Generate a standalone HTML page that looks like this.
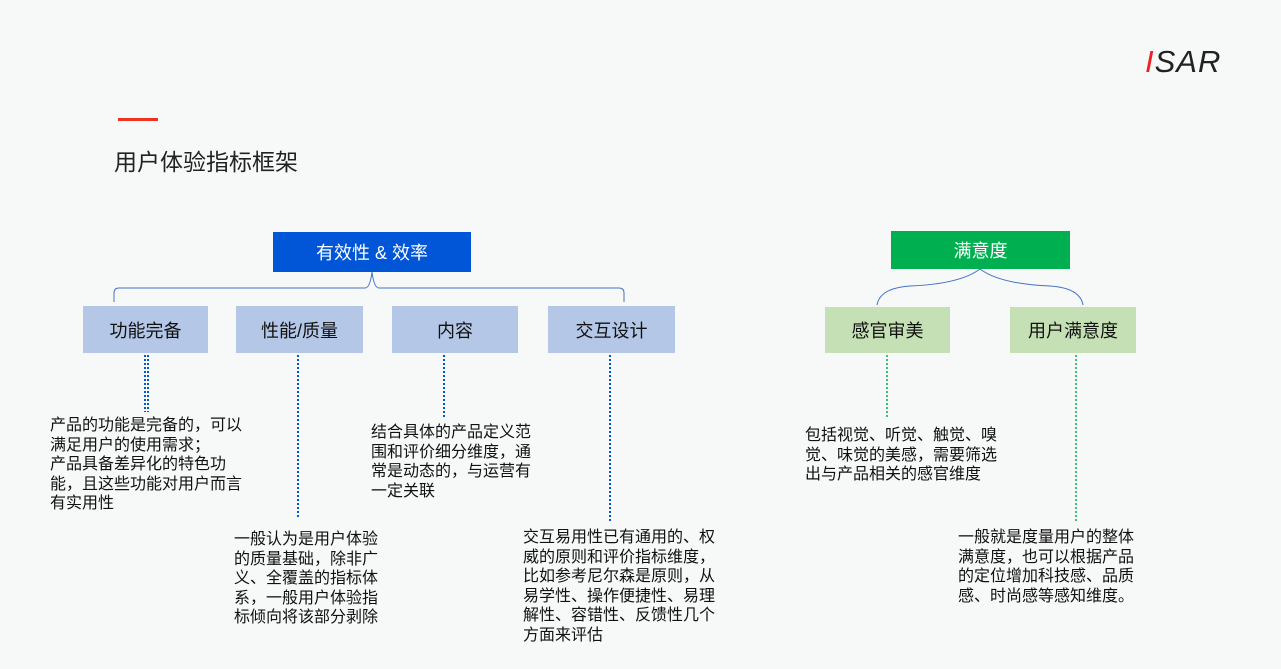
<!DOCTYPE html>
<html><head><meta charset="utf-8"><style>
body{margin:0;width:1281px;height:669px;background:#f7f8f8;position:relative;overflow:hidden;font-family:"Liberation Sans","Noto Sans CJK SC",sans-serif;}
.b{position:absolute;display:flex;align-items:center;justify-content:center;font-size:18px;color:#111;}
.t{position:absolute;font-size:16px;line-height:19.5px;color:#111;word-break:break-all;}
</style></head><body>
<div style="position:absolute;left:118px;top:118px;width:40px;height:3px;background:#e32;"></div>
<div style="position:absolute;left:114px;top:143px;font-size:23px;color:#222;">用户体验指标框架</div>
<div style="position:absolute;left:1145px;top:44px;font-size:31px;font-style:italic;color:#222;letter-spacing:1px;"><span style="color:#e22;">I</span>SAR</div>

<div class="b" style="left:273px;top:232px;width:198px;height:40px;background:#0056d6;color:#fff;">有效性 &amp; 效率</div>
<div class="b" style="left:83px;top:306px;width:125px;height:47px;background:#b4c7e7;">功能完备</div>
<div class="b" style="left:236px;top:306px;width:127px;height:47px;background:#b4c7e7;">性能/质量</div>
<div class="b" style="left:392px;top:306px;width:126px;height:47px;background:#b4c7e7;">内容</div>
<div class="b" style="left:548px;top:306px;width:127px;height:47px;background:#b4c7e7;">交互设计</div>
<div class="b" style="left:891px;top:231px;width:179px;height:38px;background:#00b050;color:#fff;">满意度</div>
<div class="b" style="left:825px;top:307px;width:125px;height:46px;background:#c5e0b4;">感官审美</div>
<div class="b" style="left:1010px;top:307px;width:126px;height:46px;background:#c5e0b4;">用户满意度</div>

<svg width="1281" height="669" style="position:absolute;left:0;top:0">
<path d="M114 302 V293 Q114 288 119 288 H365 Q370 288 372 272 Q374 288 379 288 H619 Q624 288 624 293 V302" fill="none" stroke="#4472c4" stroke-width="1"/>
<path d="M877 305 Q880 288 910 286 Q960 284 980 269 Q1000 284 1050 286 Q1080 288 1083 305" fill="none" stroke="#4472c4" stroke-width="1"/>
<g stroke="#0056d6" stroke-width="2" stroke-dasharray="2 2">
<line x1="145" y1="355" x2="145" y2="412"/><line x1="148" y1="355" x2="148" y2="412"/>
<line x1="298" y1="355" x2="298" y2="518"/>
<line x1="444" y1="355" x2="444" y2="418"/>
<line x1="610" y1="355" x2="610" y2="523"/>
</g>
<g stroke="#00b050" stroke-width="1.5" stroke-dasharray="2 2">
<line x1="887" y1="355" x2="887" y2="418"/>
<line x1="1076" y1="355" x2="1076" y2="523"/>
</g>
</svg>

<div class="t" style="left:50px;top:416px;width:196px;">产品的功能是完备的，可以满足用户的使用需求；<br>产品具备差异化的特色功能，且这些功能对用户而言有实用性</div>
<div class="t" style="left:234px;top:530px;width:148px;">一般认为是用户体验的质量基础，除非广义、全覆盖的指标体系，一般用户体验指标倾向将该部分剥除</div>
<div class="t" style="left:371px;top:423px;width:164px;">结合具体的产品定义范围和评价细分维度，通常是动态的，与运营有一定关联</div>
<div class="t" style="left:523px;top:528px;width:196px;">交互易用性已有通用的、权威的原则和评价指标维度，比如参考尼尔森是原则，从易学性、操作便捷性、易理解性、容错性、反馈性几个方面来评估</div>
<div class="t" style="left:805px;top:426px;width:196px;">包括视觉、听觉、触觉、嗅觉、味觉的美感，需要筛选出与产品相关的感官维度</div>
<div class="t" style="left:958px;top:528px;width:180px;">一般就是度量用户的整体满意度，也可以根据产品的定位增加科技感、品质感、时尚感等感知维度。</div>
</body></html>
